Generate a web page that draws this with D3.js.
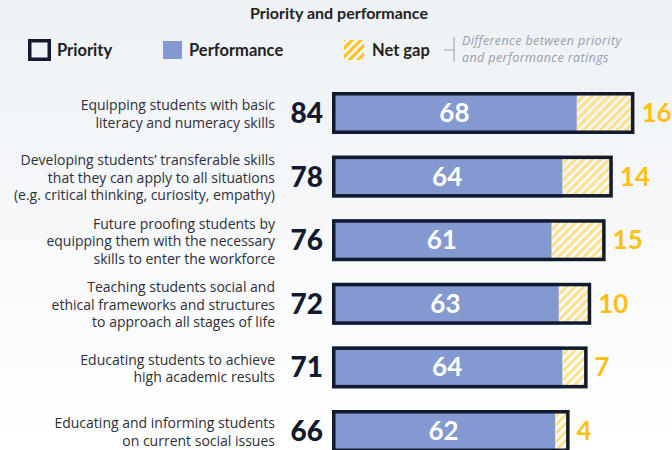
<!DOCTYPE html>
<html>
<head>
<meta charset="utf-8">
<script src="https://cdn.jsdelivr.net/npm/d3@7"></script>
<style>
  html, body { margin: 0; padding: 0; }
  body { width: 672px; height: 450px; overflow: hidden; font-family: Lato, "Open Sans", sans-serif; }
</style>
</head>
<body>
<div id="chart"></div>
<script>
// Priority vs performance ratings

const categories = [
  ["Equipping students with basic", "literacy and numeracy skills"],
  ["Developing students\u2019 transferable skills", "that they can apply to all situations", "(e.g. critical thinking, curiosity, empathy)"],
  ["Future proofing students by", "equipping them with the necessary", "skills to enter the workforce"],
  ["Teaching students social and", "ethical frameworks and structures", "to approach all stages of life"],
  ["Educating students to achieve", "high academic results"],
  ["Educating and informing students", "on current social issues"]
];
const priority = [84, 78, 76, 72, 71, 66];
const performance = [68, 64, 61, 63, 64, 62];
const netGap = [16, 14, 15, 10, 7, 4];

const W = 672, H = 450;
const navy = "#111a2e", perfColor = "#8399cf", gold = "#fcbf14";

const svg = d3.select("#chart").append("svg")
  .attr("width", W).attr("height", H);

const defs = svg.append("defs");
const grad = defs.append("linearGradient").attr("id", "bg")
  .attr("x1", 0).attr("y1", 0).attr("x2", 0).attr("y2", 1);
grad.append("stop").attr("offset", "0%").attr("stop-color", "#edf1f5");
grad.append("stop").attr("offset", "100%").attr("stop-color", "#ffffff");

function hatch(id, color, w) {
  const p = defs.append("pattern").attr("id", id)
    .attr("patternUnits", "userSpaceOnUse")
    .attr("width", w).attr("height", w)
    .attr("patternTransform", "rotate(45)");
  p.append("rect").attr("width", w / 2).attr("height", w).attr("fill", color);
}
hatch("hatchBar", "#fde18a", 6);
hatch("hatchLegend", "#fcc419", 6);

svg.append("rect").attr("width", W).attr("height", H).attr("fill", "url(#bg)");

// title
svg.append("text")
  .attr("x", 339).attr("y", 19)
  .attr("text-anchor", "middle")
  .attr("font-size", "16px").attr("font-weight", "bold")
  .attr("fill", "#222")
  .text("Priority and performance");

// legend
const lg = svg.append("g");
lg.append("rect").attr("x", 29.75).attr("y", 40.75).attr("width", 19.5).attr("height", 18.5)
  .attr("fill", "none").attr("stroke", navy).attr("stroke-width", 3.5);
lg.append("text").attr("x", 57).attr("y", 56).text("Priority");
lg.append("rect").attr("x", 163).attr("y", 41).attr("width", 19).attr("height", 18).attr("fill", perfColor);
lg.append("text").attr("x", 189).attr("y", 56).text("Performance");
lg.append("rect").attr("x", 344).attr("y", 40).attr("width", 20).attr("height", 20).attr("fill", "url(#hatchLegend)");
lg.append("text").attr("x", 372).attr("y", 56).text("Net gap");
lg.selectAll("text").attr("font-size", "16.5px").attr("font-weight", "bold").attr("fill", "#222");

lg.append("path").attr("d", "M444,50H454M454,37V62")
  .attr("stroke", "#9aa0aa").attr("stroke-width", 1).attr("fill", "none");
const note = ["Difference between priority", "and performance ratings"];
lg.append("text")
  .attr("font-family", "'Open Sans', sans-serif")
  .attr("font-size", "12.5px").attr("letter-spacing", "0.4px")
  .attr("font-style", "italic").attr("fill", "#979eaa")
  .selectAll("tspan").data(note).enter().append("tspan")
  .attr("x", 462).attr("y", (t, k) => 45 + k * 17)
  .text(t => t);

// scales
const x = d3.scaleLinear().domain([0, 100]).range([332, 692]);
const y = d3.scaleBand().domain(d3.range(categories.length))
  .range([92, 452]).paddingInner(0.34).paddingOuter(0);
const bh = y.bandwidth();

const rows = svg.selectAll("g.row")
  .data(categories.map((c, i) => ({ lines: c, pri: priority[i], perf: performance[i], gap: netGap[i], i })))
  .enter().append("g").attr("class", "row")
  .attr("transform", d => `translate(0,${y(d.i)})`);

// performance fill
rows.append("rect")
  .attr("x", x(0)).attr("y", 0)
  .attr("width", d => x(d.perf) - x(0)).attr("height", bh)
  .attr("fill", perfColor);

// net gap hatch
rows.append("rect")
  .attr("x", d => x(d.perf)).attr("y", 0)
  .attr("width", d => x(d.pri) - x(d.perf)).attr("height", bh)
  .attr("fill", "url(#hatchBar)");

// priority outline
const sw = 3.5;
rows.append("rect")
  .attr("x", x(0) + sw / 2).attr("y", sw / 2)
  .attr("width", d => x(d.pri) - x(0) - sw).attr("height", bh - sw)
  .attr("fill", "none").attr("stroke", navy).attr("stroke-width", sw);

// priority value
rows.append("text")
  .attr("x", 323).attr("y", bh / 2 + 10)
  .attr("text-anchor", "end")
  .attr("font-size", "28px").attr("font-weight", 900)
  .attr("fill", navy)
  .text(d => d.pri);

// performance value
rows.append("text")
  .attr("x", d => (x(0) + x(d.perf)) / 2).attr("y", bh / 2 + 9)
  .attr("text-anchor", "middle")
  .attr("font-size", "26px").attr("font-weight", "bold")
  .attr("fill", "#fff")
  .text(d => d.perf);

// net gap value
rows.append("text")
  .attr("x", d => x(d.pri) + 7).attr("y", bh / 2 + 9)
  .attr("font-size", "26px").attr("font-weight", "bold")
  .attr("fill", gold)
  .text(d => d.gap);

// category labels
const lh = 17.5;
rows.append("text")
  .attr("text-anchor", "end")
  .attr("font-family", "'Open Sans', sans-serif")
  .attr("font-size", "14px")
  .attr("fill", "#2e2f38")
  .each(function(d) {
    const n = d.lines.length;
    const y0 = bh / 2 + 6 - (n - 1) * lh / 2;
    d3.select(this).selectAll("tspan")
      .data(d.lines).enter().append("tspan")
      .attr("x", 275)
      .attr("y", (t, k) => y0 + k * lh)
      .text(t => t);
  });
</script>
</body>
</html>
